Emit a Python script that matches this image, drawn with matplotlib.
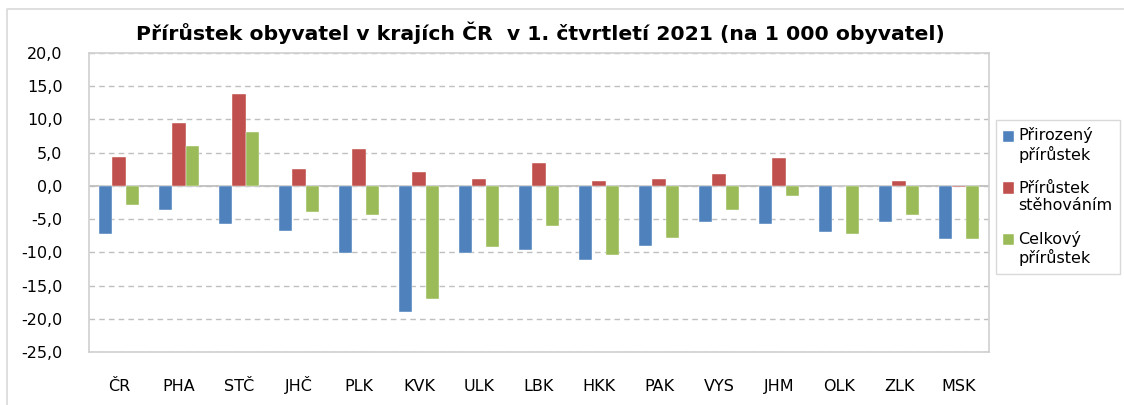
import numpy as np
import matplotlib
matplotlib.use("Agg")
import matplotlib.pyplot as plt
from matplotlib.container import BarContainer
from matplotlib.lines import Line2D
from matplotlib.patches import Rectangle
from matplotlib.legend_handler import HandlerPatch, update_from_first_child
from matplotlib.ticker import FuncFormatter

# data (per 1 000 inhabitants)
regions = ["ČR", "PHA", "STČ", "JHČ", "PLK", "KVK", "ULK", "LBK",
           "HKK", "PAK", "VYS", "JHM", "OLK", "ZLK", "MSK"]
natural = [-7.25, -3.65, -5.7, -6.8, -10.15, -19.05, -10.15, -9.65,
           -11.2, -9.1, -5.45, -5.7, -7.0, -5.45, -8.05]
migration = [4.4, 9.4, 13.85, 2.6, 5.5, 2.1, 1.05, 3.4,
             0.75, 1.1, 1.85, 4.2, 0.05, 0.8, -0.1]
total = [-2.85, 6.0, 8.1, -3.9, -4.4, -16.95, -9.15, -6.0,
         -10.45, -7.8, -3.6, -1.5, -7.25, -4.35, -8.05]
series_names = ["Přirozený\npřírůstek", "Přírůstek\nstěhováním", "Celkový\npřírůstek"]
colors = ["#4F81BD", "#C0504D", "#9BBB59"]

plt.rcParams['font.family'] = ['DejaVu Sans']

W, H = 1124, 405
fig = plt.figure(figsize=(W / 100, H / 100), dpi=100)

# outer chart border: only left and top edges are visible
fig.add_artist(Line2D([7 / W, 7 / W, 1.0], [0, 1 - 9 / H, 1 - 9 / H],
                      transform=fig.transFigure, color="#D9D9D9", linewidth=1.2))

ax = fig.add_axes([89 / W, 1 - 352 / H, (989 - 89) / W, (352 - 53) / H])

x = np.arange(len(regions))
w = 0.222
for i, (vals, c, name) in enumerate(zip([natural, migration, total], colors, series_names)):
    ax.bar(x + (i - 1) * w, vals, width=w, color=c, label=name,
           edgecolor="white", linewidth=0.3, zorder=3)

ax.set_xlim(-0.5, len(regions) - 0.5)
ax.set_ylim(-25, 20)
ax.set_yticks(np.arange(-25, 21, 5))
ax.yaxis.set_major_formatter(FuncFormatter(lambda v, p: f"{v:.1f}".replace(".", ",")))
ax.set_xticks(x)
ax.set_xticklabels(regions)
ax.tick_params(axis="both", length=0, labelsize=11.5, colors="black")
ax.tick_params(axis="y", pad=19)
ax.tick_params(axis="x", pad=28)
for lbl in ax.get_xticklabels():
    lbl.set_verticalalignment("baseline")

ax.yaxis.grid(True, linestyle=(0, (4, 3)), color="#BFBFBF", linewidth=1.0, zorder=0)
ax.axhline(0, color="#BFBFBF", linewidth=1.3, zorder=2)
for s in ax.spines.values():
    s.set_color("#D0D0D0")
    s.set_linewidth(1.2)

fig.text(540 / W, 1 - 33 / H,
         "Přírůstek obyvatel v krajích ČR  v 1. čtvrtletí 2021 (na 1 000 obyvatel)",
         ha="center", va="center", fontsize=14.7, fontweight="bold")


# legend square sits next to the first line of each two-line label
def top_square(legend, orig_handle, xdescent, ydescent, width, height, fontsize):
    sq = 0.7 * fontsize
    return Rectangle((-xdescent, -ydescent + height - sq + 0.12 * fontsize), sq, sq)


leg = fig.legend(loc="upper left", bbox_to_anchor=(996 / W, 1 - 120 / H),
                 fontsize=11.5, frameon=True, fancybox=False,
                 handlelength=0.7, handleheight=2.2, handletextpad=0.25,
                 labelspacing=1.1, borderpad=0.45, borderaxespad=0,
                 handler_map={BarContainer: HandlerPatch(patch_func=top_square,
                                                         update_func=update_from_first_child)})
leg.get_frame().set_edgecolor("#D0D0D0")
leg.get_frame().set_linewidth(1.0)

fig.savefig("out.png", dpi=100)
